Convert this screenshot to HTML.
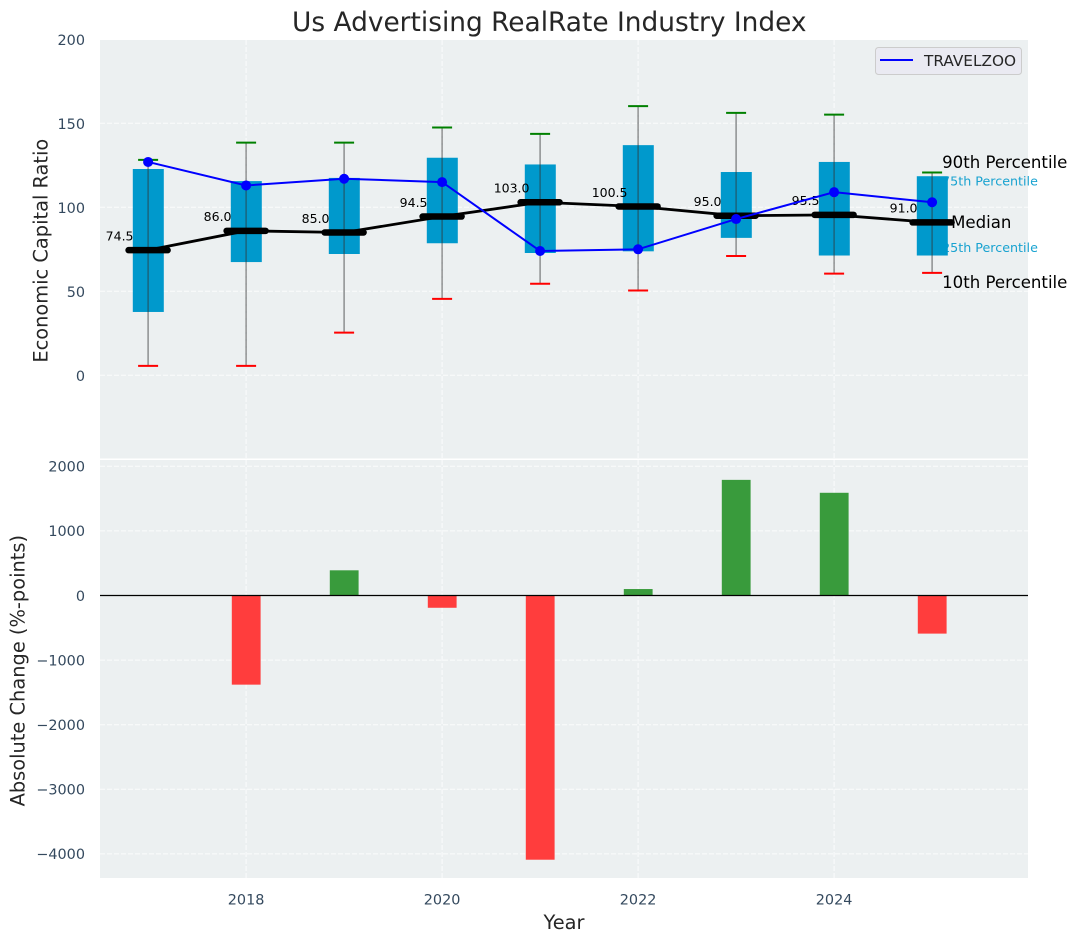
<!DOCTYPE html>
<html>
<head>
<meta charset="utf-8">
<title>Us Advertising RealRate Industry Index</title>
<style>
html,body{margin:0;padding:0;background:#fff;}
svg{display:block;font-family:"DejaVu Sans","Liberation Sans",sans-serif;}
</style>
</head>
<body>
<svg id="chart" xmlns="http://www.w3.org/2000/svg" width="1077" height="942" viewBox="0 0 1077 942"></svg>
<script>
const years = [2017, 2018, 2019, 2020, 2021, 2022, 2023, 2024, 2025];
const p10 = [5.6, 5.6, 25.4, 45.5, 54.5, 50.5, 71, 60.5, 61];
const p25 = [37.7, 67.4, 72.2, 78.6, 72.8, 73.8, 81.8, 71.3, 71.3];
const medians = [74.5, 86, 85, 94.5, 103, 100.5, 95, 95.5, 91];
const p75 = [122.8, 115.6, 117.5, 129.5, 125.5, 137, 121, 127, 118.5];
const p90 = [128.2, 138.5, 138.5, 147.5, 143.7, 160.2, 156.2, 155.2, 120.7];
const travelzoo = [127, 113, 117, 115, 74, 75, 93, 109, 103];
const changes = [null, -1380, 390, -190, -4090, 100, 1790, 1590, -590];
const topTicks = [0, 50, 100, 150, 200];
const bottomTicks = [-4000, -3000, -2000, -1000, 0, 1000, 2000];
const xTicks = [2018, 2020, 2022, 2024];

const svg = document.getElementById('chart');
const NS = 'http://www.w3.org/2000/svg';
const LEFT = 100, RIGHT = 1028;
const TOP_START = 40, TOP_END = 458.5, BOT_START = 460, BOT_END = 878;

function xs(v) { return 148.1 + (v - 2017) * 98; }
function yTop(v) { return 375.3 - v * 1.68; }
function yBot(v) { return 595.5 - v * 0.0646; }

function make(tag, attrs, text) {
  const node = document.createElementNS(NS, tag);
  for (const k in attrs) node.setAttribute(k, attrs[k]);
  if (text !== undefined) node.textContent = text;
  svg.appendChild(node);
  return node;
}
const TICK = '#34495e', INK = '#262626';
let el;

el = make('rect', {x: LEFT, y: TOP_START, width: RIGHT - LEFT, height: TOP_END - TOP_START, fill: '#ecf0f1'});


el = make('rect', {x: LEFT, y: BOT_START, width: RIGHT - LEFT, height: BOT_END - BOT_START, fill: '#ecf0f1'});



const gridStyle = {stroke: '#ffffff', 'stroke-width': 1, 'stroke-dasharray': '5 2', 'stroke-opacity': 0.8};
topTicks.forEach(function (t) {
  el = make('line', Object.assign({x1: LEFT, x2: RIGHT, y1: yTop(t), y2: yTop(t)}, gridStyle));
  
  
  el = make('text', {x: 85, y: yTop(t) + 5.6, 'text-anchor': 'end', 'font-size': 14.4, fill: TICK}, String(t));
  
  
});
bottomTicks.forEach(function (t) {
  el = make('line', Object.assign({x1: LEFT, x2: RIGHT, y1: yBot(t), y2: yBot(t)}, gridStyle));
  
  
  el = make('text', {x: 85, y: yBot(t) + 5.3, 'text-anchor': 'end', 'font-size': 14.4, fill: TICK}, String(t).replace('-', '\u2212'));
  
  
});
xTicks.forEach(function (t) {
  el = make('line', Object.assign({x1: xs(t), x2: xs(t), y1: TOP_START, y2: TOP_END}, gridStyle));
  
  
  el = make('line', Object.assign({x1: xs(t), x2: xs(t), y1: BOT_START, y2: BOT_END}, gridStyle));
  
  
  el = make('text', {x: xs(t), y: 904.5, 'text-anchor': 'middle', 'font-size': 14.4, fill: TICK}, String(t));
  
  
});

years.forEach(function (yr, i) {
  const cx = xs(yr);
  el = make('rect', {x: cx - 15.3, y: yTop(p75[i]), width: 31, height: yTop(p25[i]) - yTop(p75[i]), fill: '#0099cc'});
  
  
  el = make('line', {x1: cx, x2: cx, y1: yTop(p90[i]), y2: yTop(p10[i]), stroke: '#333333', 'stroke-opacity': 0.55, 'stroke-width': 1.4});
  
  
  el = make('line', {x1: cx - 10, x2: cx + 10, y1: yTop(p90[i]), y2: yTop(p90[i]), stroke: '#008000', 'stroke-width': 2});
  
  
  el = make('line', {x1: cx - 10, x2: cx + 10, y1: yTop(p10[i]), y2: yTop(p10[i]), stroke: '#ff0000', 'stroke-width': 2});
  
  
});

function pathFrom(vals) {
  return vals.map(function (v, i) { return (i ? 'L' : 'M') + xs(years[i]) + ' ' + yTop(v); }).join(' ');
}
el = make('path', {d: pathFrom(medians), fill: 'none', stroke: '#000000', 'stroke-width': 2.8});


years.forEach(function (yr, i) {
  const cx = xs(yr);
  el = make('line', {x1: cx - 19.5, x2: cx + 19.5, y1: yTop(medians[i]), y2: yTop(medians[i]), stroke: '#000000', 'stroke-width': 6.5, 'stroke-linecap': 'round'});
  
  
  el = make('text', {x: cx - 28.5, y: yTop(medians[i]) - 9.7, 'text-anchor': 'middle', 'font-size': 12.5, fill: '#000000'}, medians[i].toFixed(1));
  
  
});

el = make('path', {d: pathFrom(travelzoo), fill: 'none', stroke: '#0000ff', 'stroke-width': 2});


years.forEach(function (yr, i) {
  el = make('circle', {cx: xs(yr), cy: yTop(travelzoo[i]), r: 5, fill: '#0000ff'});
  
  
});

const last = years.length - 1;
const lastX = xs(years[last]);
el = make('text', {x: lastX + 10, y: yTop(p90[last]) - 4.7, 'font-size': 16.6, fill: '#000000'}, '90th Percentile');


el = make('text', {x: lastX + 10, y: yTop(p75[last]) + 9.5, 'font-size': 12.7, fill: '#0099cc', 'fill-opacity': 0.9}, '75th Percentile');


el = make('text', {x: lastX + 19, y: yTop(medians[last]) + 5.8, 'font-size': 16.6, fill: '#000000'}, 'Median');


el = make('text', {x: lastX + 10, y: yTop(p25[last]) - 3.6, 'font-size': 12.7, fill: '#0099cc', 'fill-opacity': 0.9}, '25th Percentile');


el = make('text', {x: lastX + 10, y: yTop(p10[last]) + 15, 'font-size': 16.6, fill: '#000000'}, '10th Percentile');



changes.forEach(function (v, i) {
  if (v === null) return;
  const cx = xs(years[i]);
  const y0 = yBot(0), y1 = yBot(v);
  el = make('rect', {x: cx - 14.3, y: Math.min(y0, y1), width: 28.8, height: Math.abs(y1 - y0), fill: v >= 0 ? '#399b3c' : '#ff3d3d'});
  
  
});
el = make('line', {x1: LEFT, x2: RIGHT, y1: yBot(0), y2: yBot(0), stroke: '#000000', 'stroke-width': 1.3});



el = make('rect', {x: 875.5, y: 47.5, width: 146, height: 27, rx: 3, fill: '#eaeaf2', stroke: '#cccccc', 'stroke-width': 1});


el = make('line', {x1: 880, x2: 913, y1: 60, y2: 60, stroke: '#0000ff', 'stroke-width': 2});


el = make('text', {x: 924, y: 66, 'font-size': 15.3, fill: INK}, 'TRAVELZOO');



el = make('text', {x: 549.3, y: 31, 'text-anchor': 'middle', 'font-size': 26.4, fill: INK}, 'Us Advertising RealRate Industry Index');


el = make('text', {x: 564, y: 929, 'text-anchor': 'middle', 'font-size': 19.4, fill: INK}, 'Year');


el = make('text', {transform: 'translate(47.5 250.7) rotate(-90)', 'text-anchor': 'middle', 'font-size': 19.4, fill: INK}, 'Economic Capital Ratio');


el = make('text', {transform: 'translate(24.5 670.7) rotate(-90)', 'text-anchor': 'middle', 'font-size': 19.4, fill: INK}, 'Absolute Change (%-points)');


</script>
</body>
</html>
